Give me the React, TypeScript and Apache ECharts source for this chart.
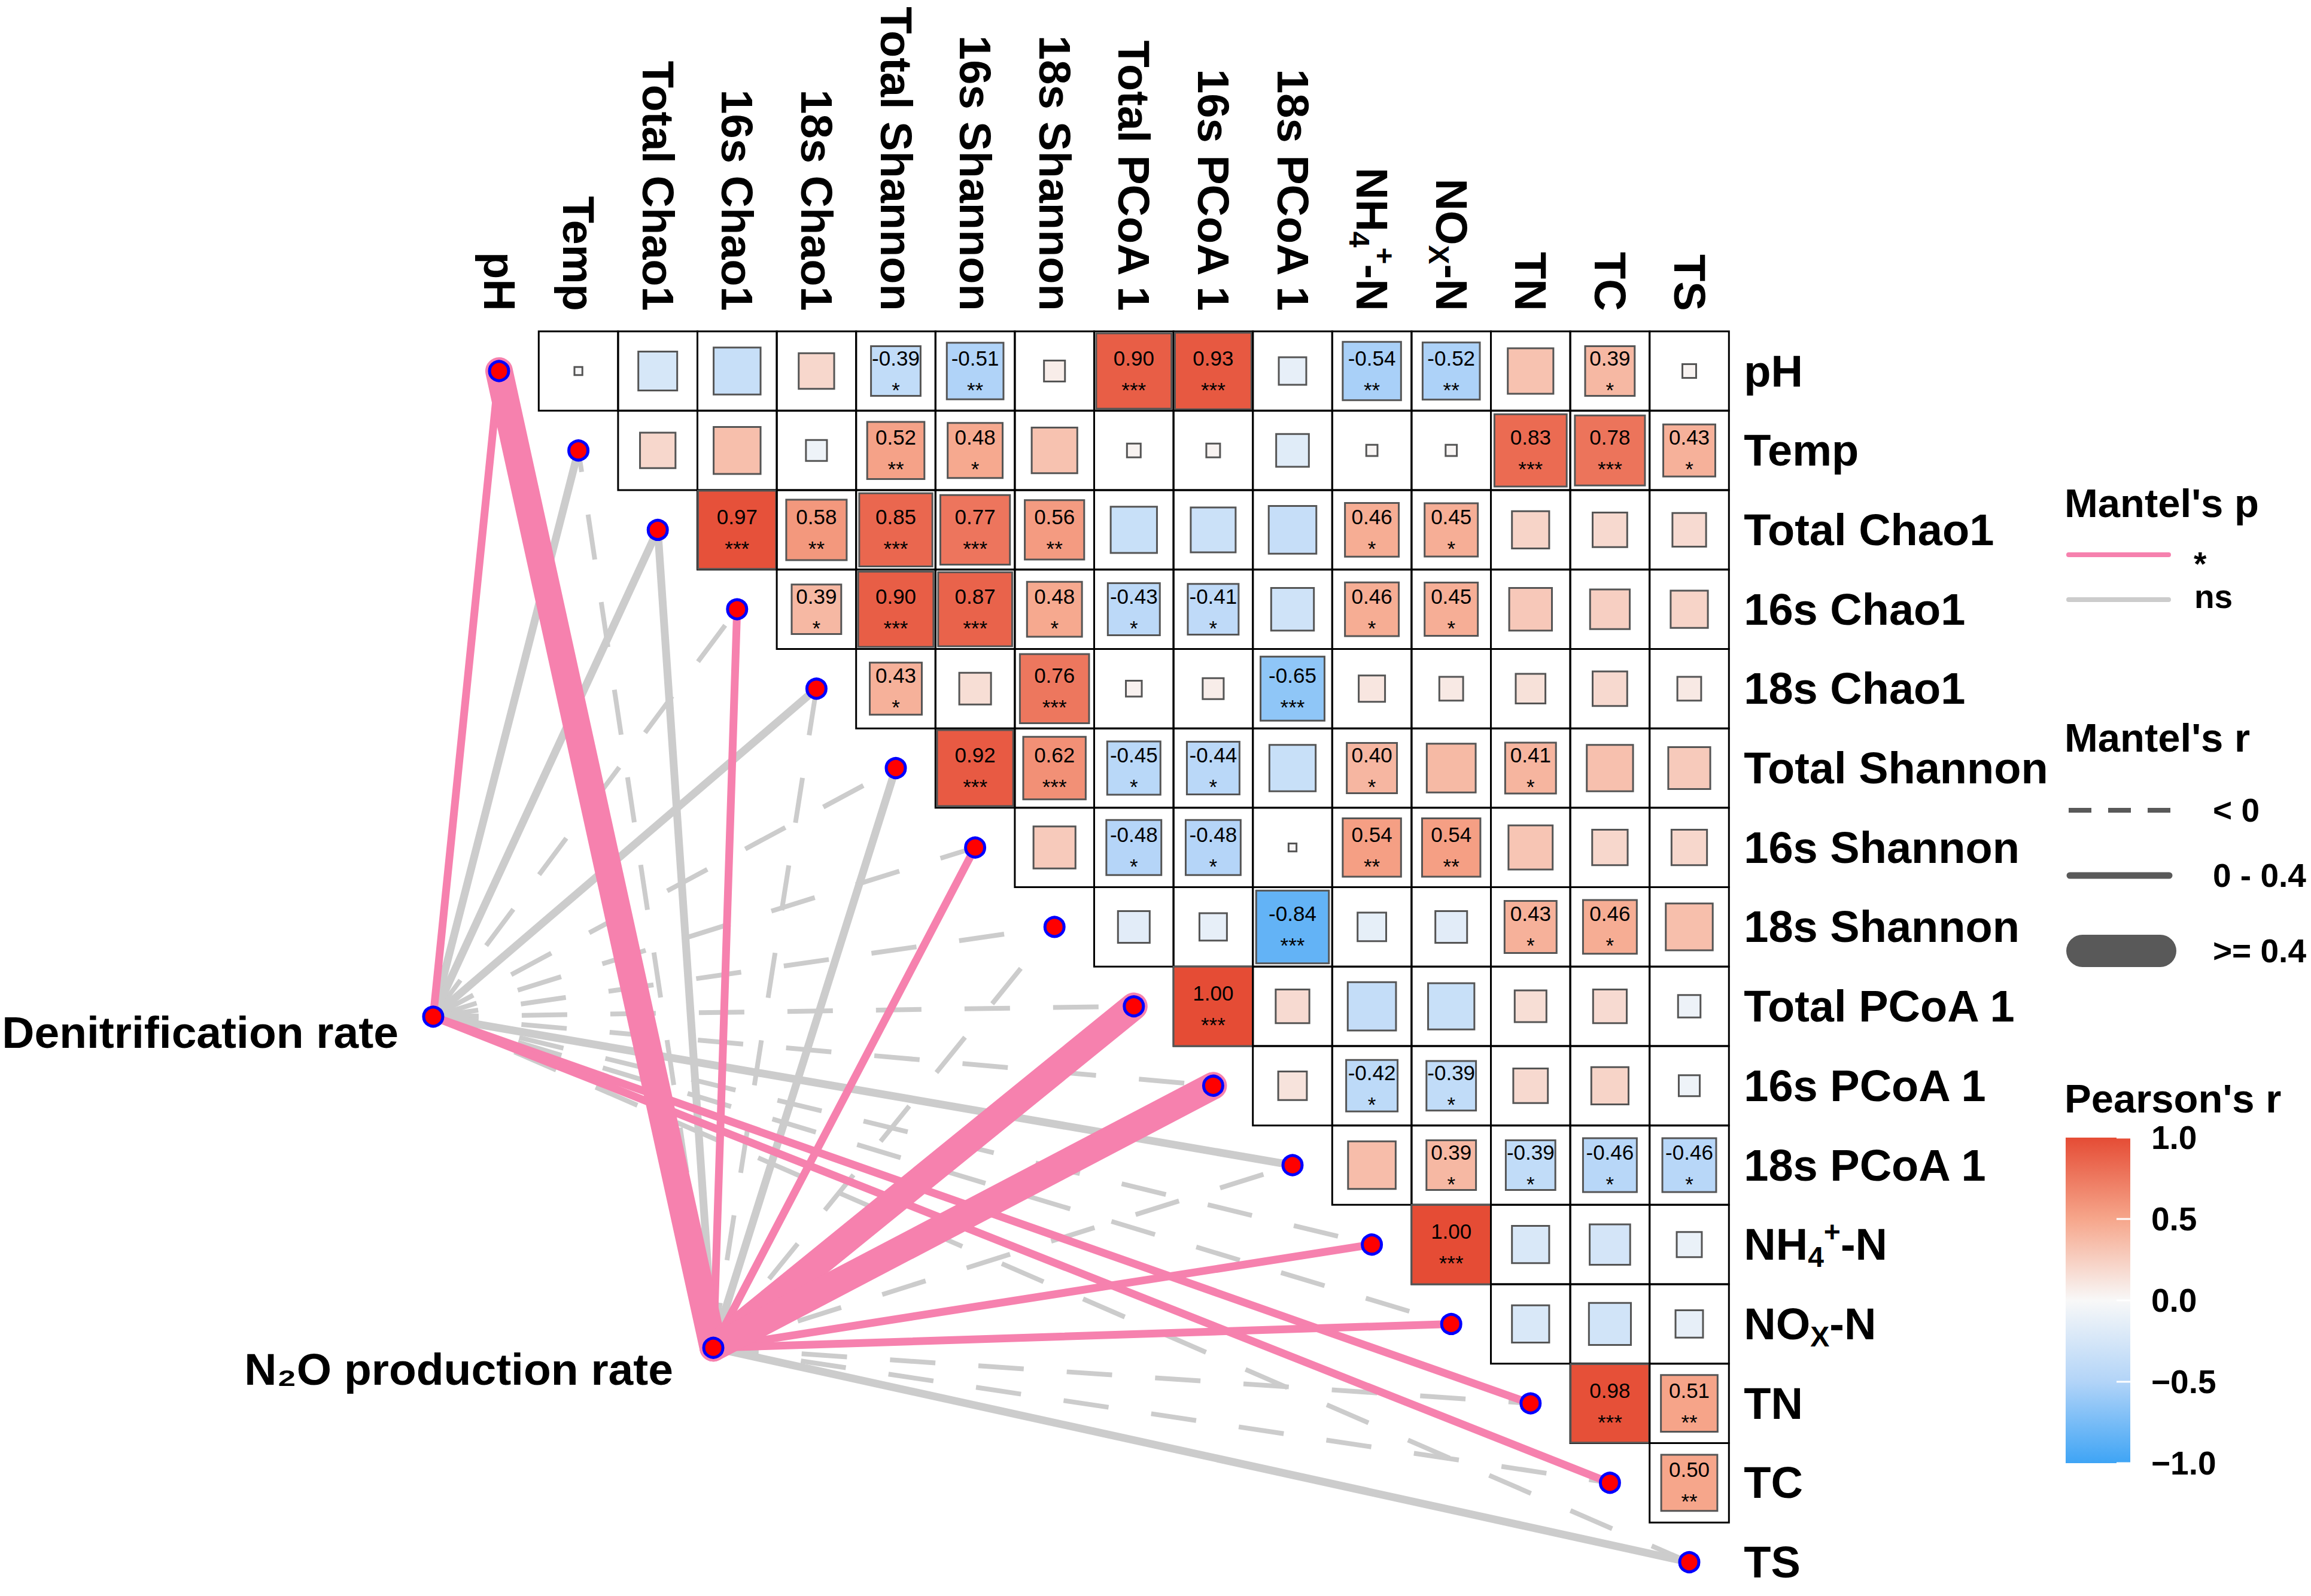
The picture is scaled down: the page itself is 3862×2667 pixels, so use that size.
import React, { useEffect, useRef } from "react";
import * as echarts from "echarts";

// ---------- data ----------
const variables = [
  "pH", "Temp", "Total Chao1", "16s Chao1", "18s Chao1", "Total Shannon",
  "16s Shannon", "18s Shannon", "Total PCoA 1", "16s PCoA 1", "18s PCoA 1",
  "NH4+-N", "NOx-N", "TN", "TC", "TS",
];

// Pearson's r (upper triangle): row k holds r with variables k+1 ... 15
const rPH = [-0.01, -0.24, -0.35, 0.2, -0.39, -0.51, 0.07, 0.9, 0.93, -0.12, -0.54, -0.52, 0.33, 0.39, 0.03];
const rTemp = [0.2, 0.35, -0.07, 0.52, 0.48, 0.33, 0.03, 0.03, -0.17, 0.02, 0.02, 0.83, 0.78, 0.43];
const rTotalChao1 = [0.97, 0.58, 0.85, 0.77, 0.56, -0.34, -0.32, -0.36, 0.46, 0.45, 0.22, 0.19, 0.18];
const r16sChao1 = [0.39, 0.9, 0.87, 0.48, -0.43, -0.41, -0.29, 0.46, 0.45, 0.29, 0.25, 0.22];
const r18sChao1 = [0.43, 0.16, 0.76, 0.04, 0.07, -0.65, 0.11, 0.09, 0.14, 0.19, 0.09];
const rTotalShannon = [0.92, 0.62, -0.45, -0.44, -0.34, 0.4, 0.38, 0.41, 0.34, 0.28];
const r16sShannon = [0.28, -0.48, -0.48, 0.01, 0.54, 0.54, 0.31, 0.2, 0.2];
const r18sShannon = [-0.16, -0.12, -0.84, -0.13, -0.16, 0.43, 0.46, 0.35];
const rTotalPCoA = [1.0, 0.18, -0.37, -0.34, 0.16, 0.18, -0.08];
const r16sPCoA = [0.13, -0.42, -0.39, 0.19, 0.22, -0.07];
const r18sPCoA = [0.36, 0.39, -0.39, -0.46, -0.46];
const rNH4 = [1.0, -0.22, -0.26, -0.1];
const rNOx = [-0.22, -0.28, -0.12];
const rTN = [0.98, 0.51];
const rTC = [0.5];

// significance stars (number of *) for the same cells
const sPH = [0, 0, 0, 0, 1, 2, 0, 3, 3, 0, 2, 2, 0, 1, 0];
const sTemp = [0, 0, 0, 2, 1, 0, 0, 0, 0, 0, 0, 3, 3, 1];
const sTotalChao1 = [3, 2, 3, 3, 2, 0, 0, 0, 1, 1, 0, 0, 0];
const s16sChao1 = [1, 3, 3, 1, 1, 1, 0, 1, 1, 0, 0, 0];
const s18sChao1 = [1, 0, 3, 0, 0, 3, 0, 0, 0, 0, 0];
const sTotalShannon = [3, 3, 1, 1, 0, 1, 0, 1, 0, 0];
const s16sShannon = [0, 1, 1, 0, 2, 2, 0, 0, 0];
const s18sShannon = [0, 0, 3, 0, 0, 1, 1, 0];
const sTotalPCoA = [3, 0, 0, 0, 0, 0, 0];
const s16sPCoA = [0, 1, 1, 0, 0, 0];
const s18sPCoA = [0, 1, 1, 1, 1];
const sNH4 = [3, 0, 0, 0];
const sNOx = [0, 0, 0];
const sTN = [3, 2];
const sTC = [2];

const corrRows = [rPH, rTemp, rTotalChao1, r16sChao1, r18sChao1, rTotalShannon, r16sShannon, r18sShannon, rTotalPCoA, r16sPCoA, r18sPCoA, rNH4, rNOx, rTN, rTC];
const starRows = [sPH, sTemp, sTotalChao1, s16sChao1, s18sChao1, sTotalShannon, s16sShannon, s18sShannon, sTotalPCoA, s16sPCoA, s18sPCoA, sNH4, sNOx, sTN, sTC];

// Mantel tests
const mantelSources = ["Denitrification rate", "N\u2082O production rate"];
const mantelRDenit = [0.25, 0.12, 0.15, -0.05, 0.18, -0.04, -0.06, -0.03, -0.02, -0.03, 0.14, -0.05, -0.04, 0.28, 0.26, -0.02];
const mantelPDenit = [0.02, 0.21, 0.16, 0.62, 0.12, 0.58, 0.66, 0.51, 0.47, 0.55, 0.18, 0.63, 0.59, 0.03, 0.04, 0.44];
const mantelRN2O = [0.62, -0.04, 0.1, 0.24, -0.03, 0.12, 0.22, -0.05, 0.58, 0.55, -0.06, 0.27, 0.25, -0.04, -0.05, 0.11];
const mantelPN2O = [0.001, 0.52, 0.24, 0.03, 0.49, 0.19, 0.04, 0.61, 0.001, 0.002, 0.66, 0.02, 0.03, 0.55, 0.57, 0.22];

const colorbarTicks = [1, 0.5, 0, -0.5, -1];

// ---------- layout / style ----------
const W = 3862;
const H = 2667;
const FONT = "'Liberation Sans', Arial, Helvetica, sans-serif";
// colour stops for r = -1, -0.5, 0, 0.5, 1
const COLOR_STOPS = ["#3EA4F5", "#B2D4F8", "#F8F8F8", "#F6A68B", "#E54C35"];
const PINK = "#F681AE";
const GREY = "#CCCCCC";
const LEGEND_GREY = "#595959";
const GRID = { left: 767.7, top: 553.65, width: 2121.6, height: 2123.2 };
// node placement of the Mantel sources, in cell units relative to the first cell
const SOURCE_LAYOUT = [
  { col: -0.83, row: 8.13, dx: -58, dy: 26 },
  { col: 2.7, row: 12.3, dx: -67, dy: 36 },
];

const richLabel = (name: string) =>
  name === "NH4+-N" ? "NH{sub|4}{sup|+}-N" : name === "NOx-N" ? "NO{sub|X}-N" : name;

const RICH = {
  sub: { fontSize: 48, fontWeight: "bold", fontFamily: FONT, color: "#000", verticalAlign: "bottom", lineHeight: 48 },
  sup: { fontSize: 48, fontWeight: "bold", fontFamily: FONT, color: "#000", verticalAlign: "top", lineHeight: 48 },
};

function buildOption() {
  const cellData: number[][] = [];
  corrRows.forEach((row, i) =>
    row.forEach((r, k) => cellData.push([i + 1 + k, i, r, starRows[i][k]]))
  );

  const linkData: number[][] = [];
  [[mantelRDenit, mantelPDenit], [mantelRN2O, mantelPN2O]].forEach(([rs, ps], s) =>
    rs.forEach((r, e) => linkData.push([s, e, r, ps[e]]))
  );
  const rank = (d: number[]) => (d[3] >= 0.05 ? (d[2] < 0 ? 0 : 1) : d[2] < 0.4 ? 2 : 3);
  linkData.sort((a, b) => rank(a) - rank(b));

  const sourcePoint = (api: any, s: number) => {
    const o = api.coord([0, 0]);
    const sz = api.size([1, 1]);
    const L = SOURCE_LAYOUT[s];
    return [o[0] + L.col * sz[0], o[1] + L.row * sz[1]];
  };

  const axisLabelBase = {
    interval: 0,
    fontSize: 74,
    fontWeight: "bold",
    fontFamily: FONT,
    color: "#000",
    lineHeight: 90,
    formatter: (v: string) => richLabel(v),
    rich: RICH,
  };

  const graphics: any[] = [];
  const title = (text: string, y: number) => ({
    type: "text", x: 3450, y,
    style: { text, fontSize: 67, fontWeight: "bold", fontFamily: FONT, fill: "#000", align: "left", verticalAlign: "middle" },
  });
  const label = (text: string, x: number, y: number) => ({
    type: "text", x, y,
    style: { text, fontSize: 55, fontWeight: "bold", fontFamily: FONT, fill: "#000", align: "left", verticalAlign: "middle" },
  });
  const seg = (x1: number, x2: number, y: number, stroke: string, lineWidth: number, dash?: number[]) => ({
    type: "line",
    shape: { x1, y1: y, x2, y2: y },
    style: { stroke, lineWidth, lineCap: dash ? "butt" : "round", lineDash: dash || null },
  });

  graphics.push(title("Mantel's p", 840));
  graphics.push(seg(3457, 3624, 927, PINK, 8));
  graphics.push(label("*", 3666, 942));
  graphics.push(seg(3457, 3624, 1002, GREY, 8));
  graphics.push(label("ns", 3667, 997));

  graphics.push(title("Mantel's r", 1232));
  graphics.push(seg(3457, 3628, 1354, LEGEND_GREY, 8, [38, 28]));
  graphics.push(label("< 0", 3698, 1354));
  graphics.push(seg(3459, 3625, 1463, LEGEND_GREY, 11));
  graphics.push(label("0 - 0.4", 3698, 1463));
  graphics.push(seg(3480, 3610, 1589, LEGEND_GREY, 54));
  graphics.push(label(">= 0.4", 3698, 1589));

  graphics.push(title("Pearson's r", 1835));
  const barX = 3452, barY = 1901, barW = 108, barH = 544;
  graphics.push({
    type: "rect",
    shape: { x: barX, y: barY, width: barW, height: barH },
    style: {
      fill: new echarts.graphic.LinearGradient(
        0, 0, 0, 1,
        COLOR_STOPS.slice().reverse().map((color, k, arr) => ({ offset: k / (arr.length - 1), color }))
      ),
    },
  });
  colorbarTicks.forEach((v) => {
    const y = barY + ((1 - v) / 2) * barH;
    graphics.push({
      type: "line",
      shape: { x1: barX + barW - 23, y1: y, x2: barX + barW, y2: y },
      style: { stroke: "#fff", lineWidth: 3 },
    });
    graphics.push(label(v.toFixed(1).replace("-", "\u2212"), 3595, y));
  });

  return {
    animation: false,
    backgroundColor: "#ffffff",
    grid: { ...GRID, containLabel: false, outerBoundsMode: "none" },
    xAxis: {
      type: "category",
      position: "top",
      data: variables,
      axisLine: { show: false },
      axisTick: { show: false },
      splitLine: { show: false },
      axisLabel: { ...axisLabelBase, rotate: 90, margin: 34 },
    },
    yAxis: {
      type: "category",
      position: "right",
      inverse: true,
      data: variables,
      axisLine: { show: false },
      axisTick: { show: false },
      splitLine: { show: false },
      axisLabel: { ...axisLabelBase, margin: 25 },
    },
    visualMap: {
      type: "continuous",
      show: false,
      min: -1,
      max: 1,
      dimension: 2,
      seriesIndex: 0,
      inRange: { color: COLOR_STOPS },
    },
    series: [
      {
        type: "custom",
        name: "Pearson",
        coordinateSystem: "cartesian2d",
        z: 2,
        clip: false,
        data: cellData,
        encode: { x: 0, y: 1 },
        renderItem: (params: any, api: any) => {
          const j = api.value(0), i = api.value(1), r = api.value(2), n = api.value(3);
          const c = api.coord([j, i]);
          const sz = api.size([1, 1]);
          const w = sz[0], h = sz[1];
          const side = Math.sqrt(Math.abs(r)) * Math.min(w, h);
          const children: any[] = [
            {
              type: "rect",
              shape: { x: c[0] - w / 2, y: c[1] - h / 2, width: w, height: h },
              style: { fill: "none", stroke: "#000", lineWidth: 3 },
            },
            {
              type: "rect",
              shape: { x: c[0] - side / 2, y: c[1] - side / 2, width: side, height: side },
              style: { fill: api.visual("color"), stroke: "#555555", lineWidth: 3 },
            },
          ];
          if (n > 0) {
            children.push({
              type: "text",
              style: { text: r.toFixed(2), x: c[0], y: c[1] - 22, fill: "#000", fontSize: 35, fontFamily: FONT, align: "center", verticalAlign: "middle" },
            });
            children.push({
              type: "text",
              style: { text: "*".repeat(n), x: c[0], y: c[1] + 31, fill: "#000", fontSize: 35, fontFamily: FONT, align: "center", verticalAlign: "middle" },
            });
          }
          return { type: "group", children };
        },
      },
      {
        type: "custom",
        name: "Mantel",
        coordinateSystem: "cartesian2d",
        z: 1,
        clip: false,
        data: linkData,
        encode: { x: 0, y: 1 },
        renderItem: (params: any, api: any) => {
          const s = api.value(0), e = api.value(1), r = api.value(2), p = api.value(3);
          const a = sourcePoint(api, s);
          const b = api.coord([e, e]);
          const dashed = r < 0;
          const lw = dashed ? 8 : r >= 0.4 ? 46 : 13;
          return {
            type: "line",
            shape: { x1: a[0], y1: a[1], x2: b[0], y2: b[1] },
            style: {
              stroke: p < 0.05 ? PINK : GREY,
              lineWidth: lw,
              lineCap: dashed ? "butt" : "round",
              lineDash: dashed ? [76, 72] : null,
            },
          };
        },
      },
      {
        type: "custom",
        name: "Nodes",
        coordinateSystem: "cartesian2d",
        z: 3,
        clip: false,
        data: variables.map((_, k) => [k, k]),
        encode: { x: 0, y: 1 },
        renderItem: (params: any, api: any) => {
          const c = api.coord([api.value(0), api.value(1)]);
          return {
            type: "circle",
            shape: { cx: c[0], cy: c[1], r: 16 },
            style: { fill: "#FF0000", stroke: "#0000FF", lineWidth: 5 },
          };
        },
      },
      {
        type: "custom",
        name: "Sources",
        coordinateSystem: "cartesian2d",
        z: 3,
        clip: false,
        data: mantelSources.map((_, s) => [s, 0]),
        encode: { x: 0, y: 1 },
        renderItem: (params: any, api: any) => {
          const s = api.value(0);
          const a = sourcePoint(api, s);
          const L = SOURCE_LAYOUT[s];
          return {
            type: "group",
            children: [
              {
                type: "circle",
                shape: { cx: a[0], cy: a[1], r: 16 },
                style: { fill: "#FF0000", stroke: "#0000FF", lineWidth: 5 },
              },
              {
                type: "text",
                style: {
                  text: mantelSources[s], x: a[0] + L.dx, y: a[1] + L.dy,
                  fill: "#000", fontSize: 75, fontWeight: "bold", fontFamily: FONT,
                  align: "right", verticalAlign: "middle",
                },
              },
            ],
          };
        },
      },
    ],
    graphic: graphics,
  };
}

export default function App() {
  const ref = useRef<HTMLDivElement>(null);
  useEffect(() => {
    document.body.style.margin = "0";
    const chart = echarts.init(ref.current as HTMLDivElement, null, { renderer: "svg", width: W, height: H });
    chart.setOption(buildOption() as any);
    return () => chart.dispose();
  }, []);
  return <div ref={ref} style={{ width: W, height: H, background: "#fff" }} />;
}
